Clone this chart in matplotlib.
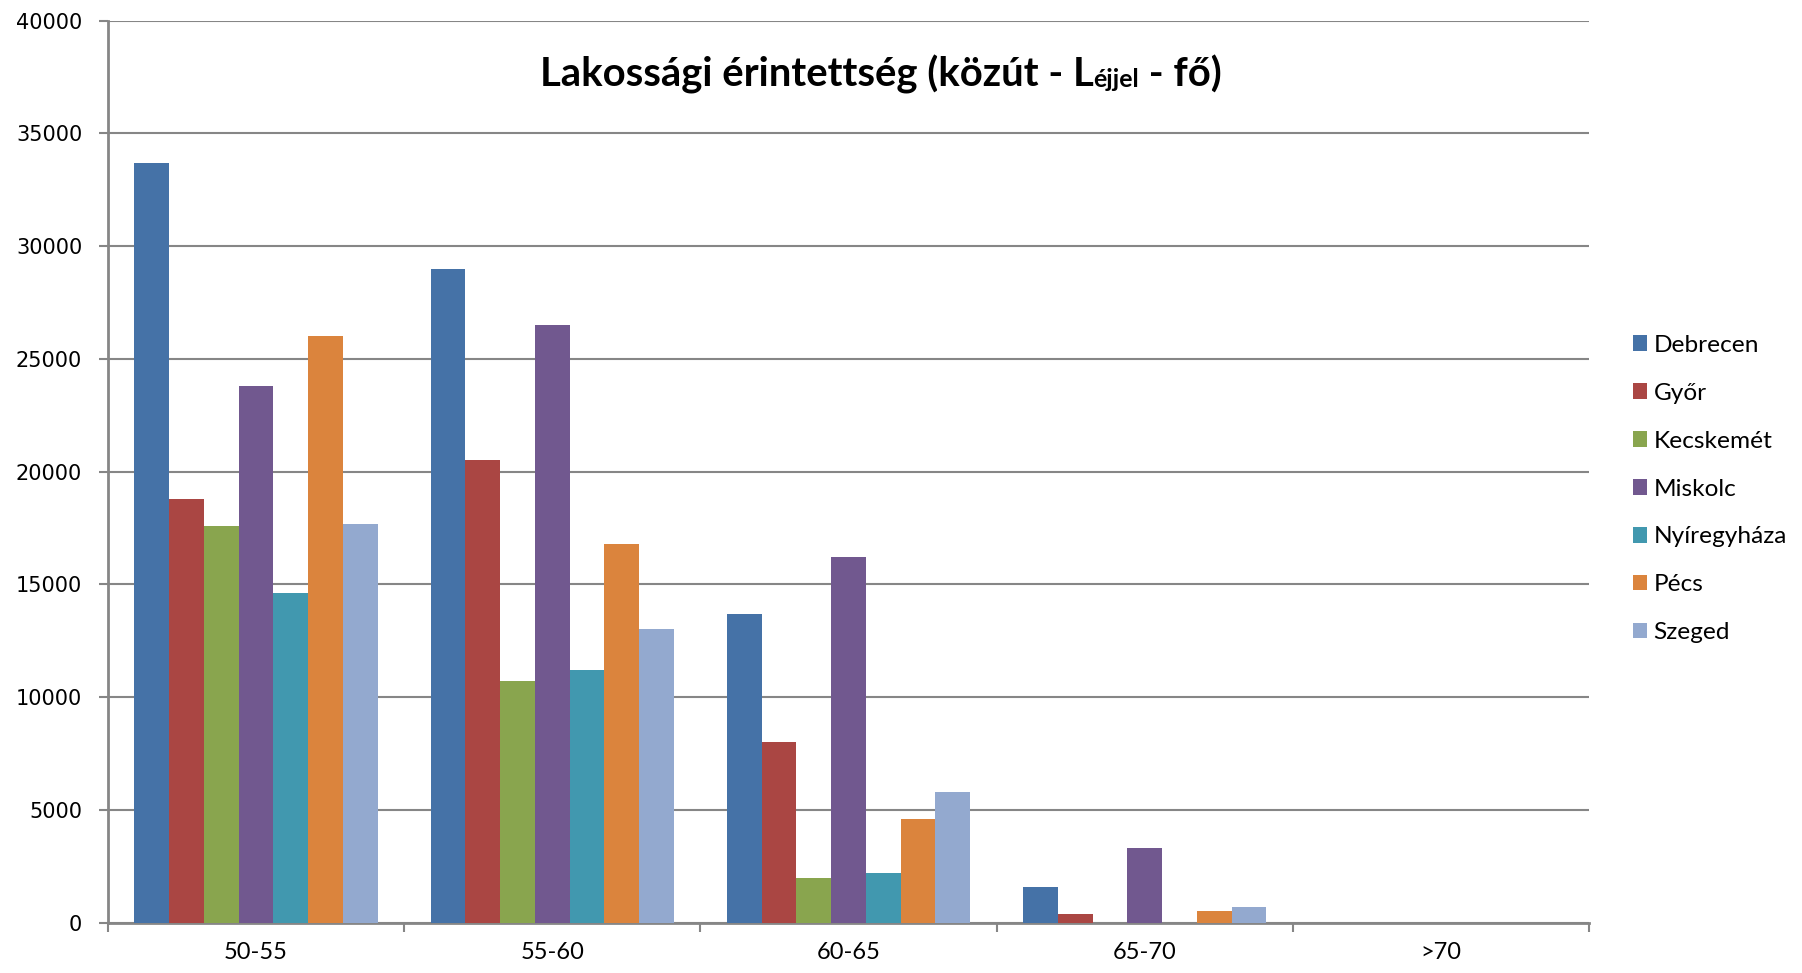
import numpy as np
import matplotlib.pyplot as plt
from matplotlib.patches import Patch

categories = ['50-55', '55-60', '60-65', '65-70', '>70']
cities = ['Debrecen', 'Győr', 'Kecskemét', 'Miskolc', 'Nyíregyháza', 'Pécs', 'Szeged']

# values per city, one entry per noise band
debrecen = [33700, 29000, 13700, 1600, 0]
gyor = [18800, 20500, 8000, 400, 0]
kecskemet = [17600, 10700, 2000, 0, 0]
miskolc = [23800, 26500, 16200, 3300, 0]
nyiregyhaza = [14600, 11200, 2200, 0, 0]
pecs = [26000, 16800, 4600, 500, 0]
szeged = [17700, 13000, 5800, 700, 0]

series = [debrecen, gyor, kecskemet, miskolc, nyiregyhaza, pecs, szeged]
colors = ['#4572A7', '#AA4643', '#89A54E', '#71588F', '#4198AF', '#DB843D', '#93A9CF']

grid_col = '#868686'

fig = plt.figure(figsize=(18.02, 9.73), dpi=100)
ax = fig.add_axes([0.0599, 0.0518, 0.8219, 0.9269])

x = np.arange(len(categories))
n = len(series)
bw = 0.822 / n
for i, (vals, c) in enumerate(zip(series, colors)):
    ax.bar(x - 0.411 + bw * (i + 0.5), vals, width=bw, color=c, zorder=3)

ax.set_xlim(-0.5, len(categories) - 0.5)
ax.set_ylim(0, 40000)
ax.set_yticks(np.arange(0, 40001, 5000))
ax.set_yticklabels([str(v) for v in range(0, 40001, 5000)], fontsize=15, family='DejaVu Sans')
ax.yaxis.grid(True, color=grid_col, linewidth=1.5, zorder=0)

ax.set_xticks(x)
ax.set_xticklabels(categories, fontsize=17, family='Lato')
ax.set_xticks(np.arange(-0.5, len(categories)), minor=True)
ax.tick_params(axis='x', which='major', length=0, pad=14)
ax.tick_params(axis='x', which='minor', length=6.5, width=1.5, color=grid_col, direction='out')
ax.tick_params(axis='y', length=6.5, width=1.5, color=grid_col, pad=12)

for s in ['top', 'right']:
    ax.spines[s].set_visible(False)
for s in ['left', 'bottom']:
    ax.spines[s].set_color(grid_col)
    ax.spines[s].set_linewidth(2)

# title with the smaller "éjjel" part
big, small = 28.8, 18
base_y = 0.911
t1 = fig.text(0.2, base_y, 'Lakossági érintettség (közút - L', fontsize=big,
              fontweight='bold', family='Lato', va='baseline', ha='left')
fig.canvas.draw()
r = fig.canvas.get_renderer()
parts = [('éjjel', small), (' - fő)', big)]
widths = [t1.get_window_extent(r).width]
tmp = []
for txt, fs in parts:
    tt = fig.text(0, 0, txt, fontsize=fs, fontweight='bold', family='Lato')
    widths.append(tt.get_window_extent(r).width)
    tmp.append(tt)
for tt in tmp:
    tt.remove()
total = sum(widths)
cx = 881
start = cx - total / 2
t1.set_x(start / 1802)
pos = start + widths[0]
for (txt, fs), w in zip(parts, widths[1:]):
    fig.text(pos / 1802, base_y, txt, fontsize=fs, fontweight='bold', family='Lato',
             va='baseline', ha='left')
    pos += w

handles = [Patch(facecolor=c, edgecolor='none') for c in colors]
fig.legend(handles, cities, loc='center left', bbox_to_anchor=(0.906, 0.4974),
           frameon=False, prop={'family': 'Lato', 'size': 17.6}, handlelength=0.6,
           handleheight=0.6, handletextpad=0.25, labelspacing=1.1, borderpad=0,
           borderaxespad=0)

plt.savefig('out.png', dpi=100)
